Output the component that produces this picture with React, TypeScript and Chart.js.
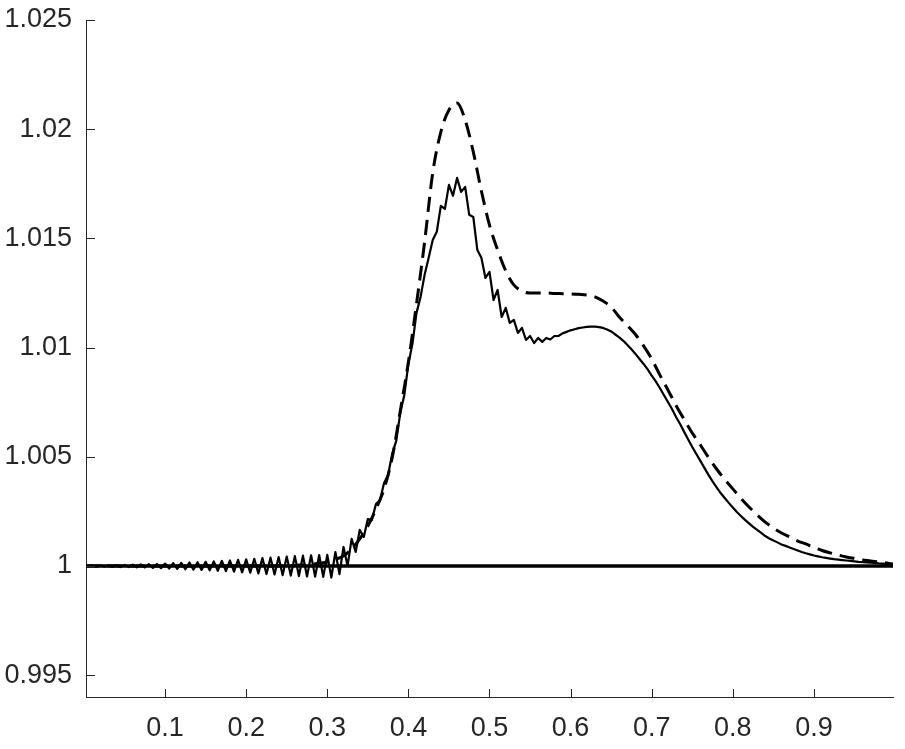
import React, { useEffect, useRef } from 'react';
import { Chart, registerables } from 'chart.js';

Chart.register(...registerables);

// ---- data ----
const solidStep = 0.005; // grid spacing of the oscillating solution
const solidValues = [
  1.00001, 0.99999, 1.00002, 0.99998, 1.00003, 0.99997, 1.00003, 0.99996, 1.00004, 0.99995,
  1.00005, 0.99995, 1.00006, 0.99994, 1.00007, 0.99993, 1.00008, 0.99991, 1.00009, 0.9999,
  1.00011, 0.99988, 1.00013, 0.99987, 1.00014, 0.99985, 1.00016, 0.99983, 1.00017, 0.99982,
  1.00019, 0.9998, 1.00021, 0.99978, 1.00023, 0.99976, 1.00025, 0.99974, 1.00028, 0.99971,
  1.0003, 0.99969, 1.00033, 0.99966, 1.00036, 0.99963, 1.00038, 0.99961, 1.00041, 0.99958,
  1.00043, 0.99956, 1.00045, 0.99954, 1.00047, 0.99952, 1.00049, 0.99951, 1.0005, 0.9995,
  1.00051, 0.99947, 1.00064, 0.99963, 1.00087, 1.0, 1.00124, 1.00064, 1.00165, 1.00133,
  1.00215, 1.00211, 1.00284, 1.00302, 1.0038, 1.00417, 1.00513, 1.00573, 1.00701, 1.00783,
  1.00925, 1.01017, 1.01159, 1.01232, 1.01333, 1.01411, 1.01493, 1.0153, 1.01649, 1.01635,
  1.01745, 1.01695, 1.01777, 1.01713, 1.01736, 1.01608, 1.01598, 1.01447, 1.01411, 1.01319,
  1.01347, 1.01218, 1.01264, 1.0114, 1.01182, 1.01113, 1.01127, 1.01067, 1.0109, 1.01035,
  1.01053, 1.01021, 1.01044, 1.01026, 1.01044, 1.01037, 1.01053, 1.01053, 1.01065, 1.01072,
  1.01079, 1.01084, 1.01089, 1.01092, 1.01095, 1.01096, 1.01096, 1.01094, 1.0109, 1.01083,
  1.01074, 1.0106, 1.01047, 1.01031, 1.01012, 1.00992, 1.00971, 1.00948, 1.00925, 1.009,
  1.00872, 1.00845, 1.00815, 1.00783, 1.00751, 1.00719, 1.00682, 1.0065, 1.00614, 1.00579,
  1.00545, 1.00513, 1.00481, 1.00449, 1.00417, 1.00387, 1.0036, 1.00334, 1.00311, 1.00289,
  1.00268, 1.00247, 1.00229, 1.00211, 1.00195, 1.00179, 1.00165, 1.00151, 1.00137, 1.00126,
  1.00117, 1.00108, 1.00098, 1.00092, 1.00085, 1.00078, 1.00071, 1.00064, 1.00058, 1.00053,
  1.00048, 1.00044, 1.0004, 1.00037, 1.00034, 1.00031, 1.00029, 1.00027, 1.00025, 1.00023,
  1.00021, 1.00019, 1.00018, 1.00016, 1.00015, 1.00014, 1.00012, 1.00011, 1.0001, 1.00008,
  1.00007,
];

const dashedStep = 0.01; // grid spacing of the smooth (dashed) solution
const dashedValues = [
  1, 1, 1, 1, 1, 1, 1, 1, 1, 1,
  1, 1, 1, 1, 1, 1, 1, 1, 1, 1,
  1, 1, 1, 1, 1, 1, 1.00002, 1.00005, 1.00008, 1.00012,
  1.00018, 1.0003, 1.00046, 1.00078, 1.00124, 1.00183, 1.00261, 1.00353, 1.00495, 1.0071,
  1.00934, 1.012, 1.01484, 1.018, 1.01987, 1.02088, 1.0212, 1.02042, 1.01896, 1.01717,
  1.01561, 1.01447, 1.01351, 1.01287, 1.01259, 1.0125, 1.0125, 1.0125, 1.01248, 1.01247,
  1.01246, 1.01244, 1.01241, 1.01232, 1.01213, 1.01186, 1.0114, 1.01101, 1.0106, 1.01008,
  1.00948, 1.00875, 1.00806, 1.00735, 1.00671, 1.00609, 1.00554, 1.00497, 1.00444, 1.00396,
  1.00353, 1.00309, 1.0027, 1.00234, 1.00201, 1.00174, 1.00151, 1.00133, 1.00114, 1.00101,
  1.00085, 1.00071, 1.0006, 1.0005, 1.00041, 1.00034, 1.00027, 1.00023, 1.00018, 1.00014,
  1.00007,
];

const referenceX = [0, 1];
const referenceValues = [1, 1];

const xTickValues = [0.1, 0.2, 0.3, 0.4, 0.5, 0.6, 0.7, 0.8, 0.9];
const xTickLabels = ['0.1', '0.2', '0.3', '0.4', '0.5', '0.6', '0.7', '0.8', '0.9'];
const yTickValues = [0.995, 1, 1.005, 1.01, 1.015, 1.02, 1.025];
const yTickLabels = ['0.995', '1', '1.005', '1.01', '1.015', '1.02', '1.025'];

const xRange = [0.0025, 0.9975];
const yRange = [0.994, 1.025];

// ---- style ----
const AXIS_COLOR = '#262626';
const FONT = { family: '"Liberation Sans", Arial, Helvetica, sans-serif', size: 27 };

const inwardTicks = {
  id: 'inwardTicks',
  afterDraw(chart: any) {
    const { ctx, chartArea, scales } = chart;
    const xs = scales.x;
    const ys = scales.y;
    ctx.save();
    ctx.strokeStyle = AXIS_COLOR;
    ctx.lineWidth = 1;
    ctx.beginPath();
    xs.ticks.forEach((t: any) => {
      const px = Math.round(xs.getPixelForValue(t.value)) + 0.5;
      ctx.moveTo(px, chartArea.bottom);
      ctx.lineTo(px, chartArea.bottom - 8);
    });
    ys.ticks.forEach((t: any) => {
      const py = Math.round(ys.getPixelForValue(t.value)) + 0.5;
      ctx.moveTo(chartArea.left, py);
      ctx.lineTo(chartArea.left + 9, py);
    });
    ctx.stroke();
    ctx.restore();
  },
};

export default function App() {
  const canvasRef = useRef<HTMLCanvasElement | null>(null);

  useEffect(() => {
    const canvas = canvasRef.current;
    if (!canvas) return;

    const solidData = solidValues.map((v, i) => ({ x: i * solidStep, y: v }));
    const dashedData = dashedValues.map((v, i) => ({ x: i * dashedStep, y: v }));
    const refData = referenceValues.map((v, i) => ({ x: referenceX[i], y: v }));

    const chart = new Chart(canvas, {
      type: 'line',
      data: {
        datasets: [
          {
            label: 'reference',
            data: refData,
            borderColor: '#000000',
            borderWidth: 3.5,
            pointRadius: 0,
            tension: 0,
          },
          {
            label: 'oscillating',
            data: solidData,
            borderColor: '#000000',
            borderWidth: 2.2,
            pointRadius: 0,
            tension: 0,
            borderJoinStyle: 'round',
          },
          {
            label: 'smooth',
            data: dashedData,
            borderColor: '#000000',
            borderWidth: 3,
            borderDash: [15, 8],
            pointRadius: 0,
            cubicInterpolationMode: 'monotone',
          },
        ],
      },
      options: {
        animation: false,
        responsive: false,
        devicePixelRatio: 1,
        parsing: false,
        normalized: true,
        layout: { padding: { top: 20, right: 12, left: 0, bottom: 0 } },
        plugins: {
          legend: { display: false },
          tooltip: { enabled: false },
          title: { display: false },
        },
        scales: {
          x: {
            type: 'linear',
            min: xRange[0],
            max: xRange[1],
            afterBuildTicks: (s: any) => {
              s.ticks = xTickValues.map((v) => ({ value: v }));
            },
            afterFit: (s: any) => {
              s.height = 52;
              s.paddingLeft = 0;
              s.paddingRight = 0;
            },
            grid: { display: false, drawTicks: false },
            border: { display: true, color: AXIS_COLOR, width: 1 },
            ticks: {
              font: FONT,
              color: AXIS_COLOR,
              padding: 15,
              maxRotation: 0,
              autoSkip: false,
              callback: (_v: any, i: number) => xTickLabels[i],
            },
          },
          y: {
            type: 'linear',
            min: yRange[0],
            max: yRange[1],
            afterBuildTicks: (s: any) => {
              s.ticks = yTickValues.map((v) => ({ value: v }));
            },
            afterFit: (s: any) => {
              s.width = 86;
              s.paddingTop = 0;
              s.paddingBottom = 0;
            },
            grid: { display: false, drawTicks: false },
            border: { display: true, color: AXIS_COLOR, width: 1 },
            ticks: {
              font: FONT,
              color: AXIS_COLOR,
              padding: 14,
              autoSkip: false,
              callback: (_v: any, i: number) => yTickLabels[i],
            },
          },
        },
      },
      plugins: [inwardTicks],
    });

    return () => {
      chart.destroy();
    };
  }, []);

  return (
    <div style={{ position: 'fixed', left: 0, top: 0, width: 905, height: 749, background: '#ffffff' }}>
      <canvas ref={canvasRef} width={905} height={749} style={{ display: 'block' }} />
    </div>
  );
}
